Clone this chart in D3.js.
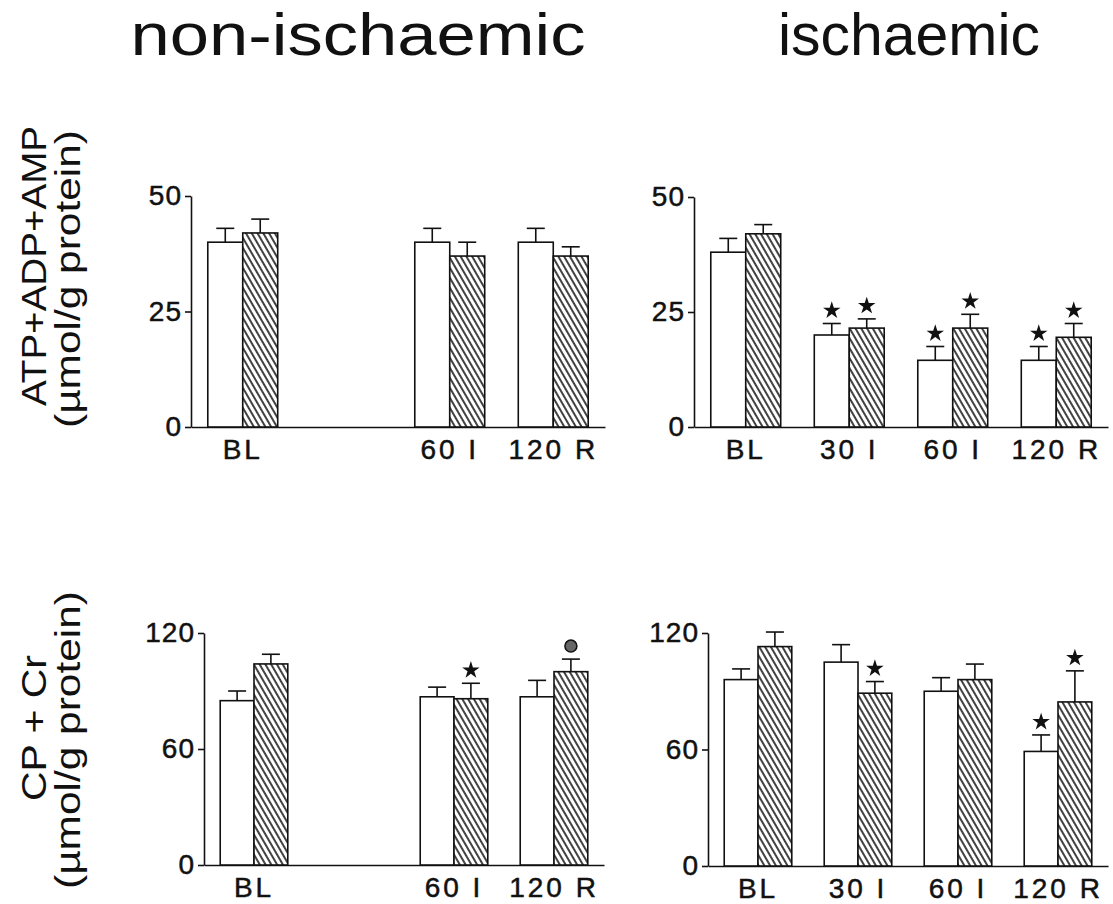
<!DOCTYPE html>
<html>
<head>
<meta charset="utf-8">
<script src="https://cdn.jsdelivr.net/npm/d3@7"></script>
<style>
  body { margin: 0; background: #fff; }
  text { font-family: "Liberation Sans", Arial, sans-serif; fill: #111; }
</style>
</head>
<body>
<script>
// categories on the x axis (30 I was not measured in non-ischaemic tissue)
const categories = ["BL", "30 I", "60 I", "120 R"];
const series = ["control", "treated"];

// ATP+ADP+AMP, non-ischaemic
const atpNonCtrl = [40, null, 40, 40];
const atpNonCtrlErr = [3, null, 3, 3];
const atpNonTrt = [42, null, 37, 37];
const atpNonTrtErr = [3, null, 3, 2];
const atpNonMark = [["", ""], null, ["", ""], ["", ""]];

// ATP+ADP+AMP, ischaemic
const atpIscCtrl = [38, 20, 14.5, 14.5];
const atpIscCtrlErr = [3, 2.5, 3, 3];
const atpIscTrt = [42, 21.5, 21.5, 19.5];
const atpIscTrtErr = [2, 2, 3, 3];
const atpIscMark = [["", ""], ["*", "*"], ["*", "*"], ["*", "*"]];

// CP + Cr, non-ischaemic
const cpNonCtrl = [85, null, 87, 87];
const cpNonCtrlErr = [5, null, 5, 8.5];
const cpNonTrt = [104, null, 86, 100];
const cpNonTrtErr = [5, null, 8, 6.5];
const cpNonMark = [["", ""], null, ["", "*"], ["", "o"]];

// CP + Cr, ischaemic
const cpIscCtrl = [96, 105, 90, 59];
const cpIscCtrlErr = [5.5, 9, 7, 8.5];
const cpIscTrt = [113, 89, 96, 84.5];
const cpIscTrtErr = [7.5, 6, 8, 16];
const cpIscMark = [["", ""], ["", "*"], ["", ""], ["*", "*"]];

const atpTicks = [0, 25, 50];
const cpTicks = [0, 60, 120];

const width = 1113, height = 904;

const svg = d3.select("body").append("svg")
    .attr("width", width)
    .attr("height", height);

const pattern = svg.append("defs").append("pattern")
    .attr("id", "hatch")
    .attr("patternUnits", "userSpaceOnUse")
    .attr("width", 5)
    .attr("height", 10)
    .attr("patternTransform", "rotate(-30)");
pattern.append("rect").attr("width", 5).attr("height", 10).attr("fill", "#fff");
pattern.append("line")
    .attr("x1", 1).attr("y1", 0).attr("x2", 1).attr("y2", 10)
    .attr("stroke", "#111").attr("stroke-width", 1.6);

function rows(ctrl, ctrlErr, trt, trtErr, marks) {
    return categories.map((c, i) => ({
        cat: c,
        bars: ctrl[i] == null ? [] : [
            { s: "control", v: ctrl[i], e: ctrlErr[i], m: marks[i][0] },
            { s: "treated", v: trt[i], e: trtErr[i], m: marks[i][1] }
        ]
    }));
}

const panels = [
    { data: rows(atpNonCtrl, atpNonCtrlErr, atpNonTrt, atpNonTrtErr, atpNonMark),
      ticks: atpTicks, labels: ["BL", "60 I", "120 R"], x0: 191, x1: 605, yTop: 196, yBot: 427 },
    { data: rows(atpIscCtrl, atpIscCtrlErr, atpIscTrt, atpIscTrtErr, atpIscMark),
      ticks: atpTicks, labels: categories, x0: 694, x1: 1108, yTop: 197, yBot: 427 },
    { data: rows(cpNonCtrl, cpNonCtrlErr, cpNonTrt, cpNonTrtErr, cpNonMark),
      ticks: cpTicks, labels: ["BL", "60 I", "120 R"], x0: 204, x1: 604, yTop: 633, yBot: 865 },
    { data: rows(cpIscCtrl, cpIscCtrlErr, cpIscTrt, cpIscTrtErr, cpIscMark),
      ticks: cpTicks, labels: categories, x0: 708, x1: 1108, yTop: 633, yBot: 866 }
];

panels.forEach(p => {
    const x = d3.scaleBand().domain(categories).range([p.x0, p.x1]);
    const xs = d3.scaleBand().domain(series).range([0, x.bandwidth()])
        .paddingInner(0).paddingOuter(0.48);
    const y = d3.scaleLinear().domain([0, d3.max(p.ticks)]).range([p.yBot, p.yTop]);
    const g = svg.append("g");

    const yAxis = g.append("g")
        .attr("transform", `translate(${p.x0},0)`)
        .call(d3.axisLeft(y).tickValues(p.ticks).tickSize(6).tickSizeOuter(0).tickPadding(3));
    yAxis.select(".domain").attr("stroke", "#111").attr("stroke-width", 1.6);
    yAxis.selectAll(".tick line").attr("stroke", "#111").attr("stroke-width", 1.6);
    yAxis.selectAll("text")
        .attr("font-size", 28)
        .attr("letter-spacing", 1)
        .attr("fill", "#111")
        .attr("stroke", "#111").attr("stroke-width", 0.5);

    const xAxis = g.append("g")
        .attr("transform", `translate(0,${y(0)})`)
        .call(d3.axisBottom(x).tickValues(p.labels).tickSize(0).tickSizeOuter(0).tickPadding(12));
    xAxis.select(".domain").attr("stroke", "#111").attr("stroke-width", 1.6);
    xAxis.selectAll("text")
        .attr("font-size", 28)
        .attr("letter-spacing", 3)
        .attr("fill", "#111")
        .attr("stroke", "#111").attr("stroke-width", 0.5);

    const grp = g.selectAll(".grp")
        .data(p.data)
        .join("g")
        .attr("transform", d => `translate(${x(d.cat)},0)`);

    const bar = grp.selectAll(".bar")
        .data(d => d.bars)
        .join("g");

    // error bars (upper half only)
    bar.append("line")
        .attr("x1", d => xs(d.s) + xs.bandwidth() / 2)
        .attr("x2", d => xs(d.s) + xs.bandwidth() / 2)
        .attr("y1", d => y(d.v))
        .attr("y2", d => y(d.v + d.e))
        .attr("stroke", "#111").attr("stroke-width", 1.6);
    bar.append("line")
        .attr("x1", d => xs(d.s) + xs.bandwidth() / 2 - 9)
        .attr("x2", d => xs(d.s) + xs.bandwidth() / 2 + 9)
        .attr("y1", d => y(d.v + d.e))
        .attr("y2", d => y(d.v + d.e))
        .attr("stroke", "#111").attr("stroke-width", 1.6);

    bar.append("rect")
        .attr("x", d => xs(d.s))
        .attr("width", xs.bandwidth())
        .attr("y", d => y(d.v))
        .attr("height", d => y(0) - y(d.v))
        .attr("fill", d => d.s == "treated" ? "url(#hatch)" : "#fff")
        .attr("stroke", "#111")
        .attr("stroke-width", 1.6);

    bar.filter(d => d.m == "*").append("path")
        .attr("d", d3.symbol(d3.symbolStar, 95))
        .attr("transform", d => `translate(${xs(d.s) + xs.bandwidth() / 2},${y(d.v + d.e) - 13})`)
        .attr("fill", "#111");

    bar.filter(d => d.m == "o").append("circle")
        .attr("cx", d => xs(d.s) + xs.bandwidth() / 2)
        .attr("cy", d => y(d.v + d.e) - 13)
        .attr("r", 6)
        .attr("fill", "#666")
        .attr("stroke", "#111")
        .attr("stroke-width", 1.5);
});

// column titles
svg.append("text").text("non-ischaemic")
    .attr("x", 358).attr("y", 55)
    .attr("text-anchor", "middle")
    .attr("font-size", 60)
    .attr("textLength", 455).attr("lengthAdjust", "spacingAndGlyphs");
svg.append("text").text("ischaemic")
    .attr("x", 909).attr("y", 55)
    .attr("text-anchor", "middle")
    .attr("font-size", 60)
    .attr("textLength", 262).attr("lengthAdjust", "spacingAndGlyphs");

// y axis titles
const yTitles = [
    { t: "ATP+ADP+AMP", x: 46, y: 266, len: 280 },
    { t: "(µmol/g protein)", x: 80, y: 279, len: 298 },
    { t: "CP + Cr", x: 46, y: 728, len: 146 },
    { t: "(µmol/g protein)", x: 80, y: 740, len: 298 }
];
svg.selectAll(".ytitle")
    .data(yTitles)
    .join("text")
    .attr("transform", d => `translate(${d.x},${d.y}) rotate(-90)`)
    .attr("text-anchor", "middle")
    .attr("font-size", 35)
    .attr("textLength", d => d.len)
    .attr("lengthAdjust", "spacingAndGlyphs")
    .text(d => d.t);
</script>
</body>
</html>
